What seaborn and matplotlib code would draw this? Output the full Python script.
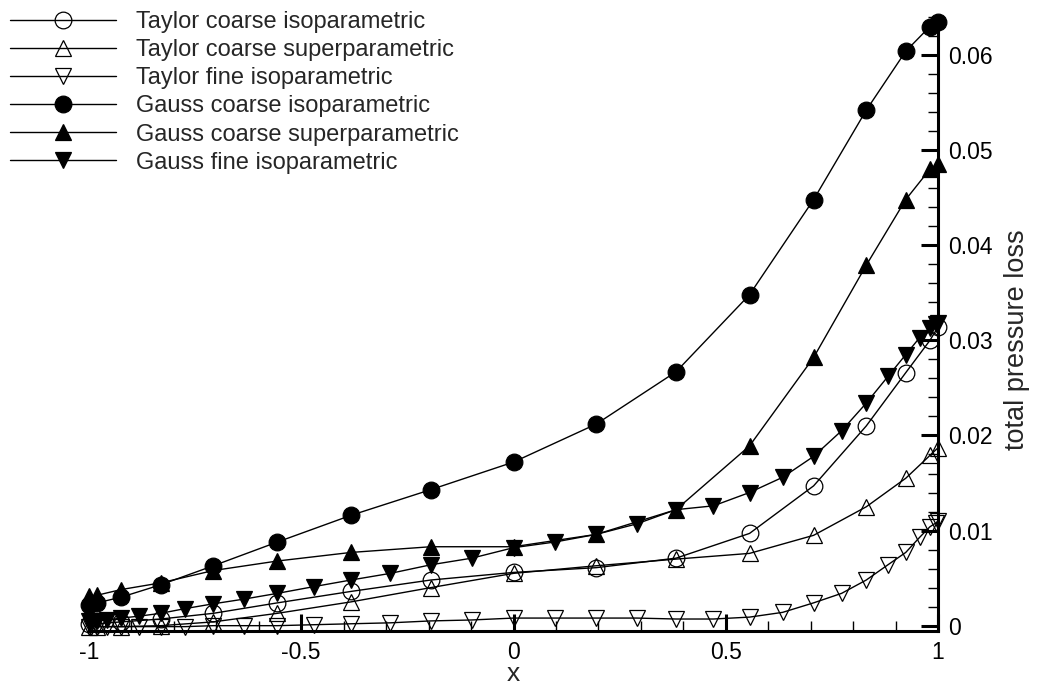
import numpy as np
import pandas as pd
import matplotlib
matplotlib.use("Agg")
import matplotlib.pyplot as plt
from matplotlib.ticker import MultipleLocator, FuncFormatter
import seaborn as sns

# Collocation coordinates of the two grids
x_coarse = [-1.0, -0.981, -0.924, -0.831, -0.707, -0.556, -0.383, -0.195, 0.0,
            0.195, 0.383, 0.556, 0.707, 0.831, 0.924, 0.981, 1.0]
x_fine = [-1.0, -0.995, -0.981, -0.957, -0.924, -0.882, -0.831, -0.773, -0.707,
          -0.634, -0.556, -0.471, -0.383, -0.290, -0.195, -0.098, 0.0,
          0.098, 0.195, 0.290, 0.383, 0.471, 0.556, 0.634, 0.707,
          0.773, 0.831, 0.882, 0.924, 0.957, 0.981, 0.995, 1.0]

# Total pressure loss along x
taylor_coarse_iso = [0.0002, 0.0002, 0.0004, 0.0007, 0.0013, 0.0024, 0.0036, 0.0048, 0.0056,
                     0.0061, 0.0071, 0.0097, 0.0147, 0.0210, 0.0266, 0.0300, 0.0314]
taylor_coarse_super = [-0.0001, -0.0001, -0.0001, 0.0000, 0.0004, 0.0013, 0.0025, 0.0040, 0.0055,
                       0.0063, 0.0070, 0.0076, 0.0095, 0.0125, 0.0155, 0.0179, 0.0187]
taylor_fine_iso = [-0.0001, -0.0001, -0.0001, -0.0001, -0.0001, -0.0001, -0.0001, -0.0001, 0.0000,
                   0.0000, 0.0000, 0.0001, 0.0002, 0.0003, 0.0005, 0.0006, 0.0008,
                   0.0008, 0.0008, 0.0008, 0.0007, 0.0007, 0.0009, 0.0014, 0.0024,
                   0.0034, 0.0048, 0.0064, 0.0077, 0.0093, 0.0104, 0.0108, 0.0110]
gauss_coarse_iso = [0.0022, 0.0024, 0.0030, 0.0043, 0.0063, 0.0088, 0.0116, 0.0143, 0.0172,
                    0.0212, 0.0267, 0.0348, 0.0448, 0.0542, 0.0604, 0.0630, 0.0635]
gauss_coarse_super = [0.0031, 0.0032, 0.0038, 0.0045, 0.0058, 0.0068, 0.0077, 0.0083, 0.0083,
                      0.0096, 0.0122, 0.0189, 0.0282, 0.0379, 0.0448, 0.0480, 0.0485]
gauss_fine_iso = [0.0005, 0.0005, 0.0005, 0.0006, 0.0008, 0.0010, 0.0013, 0.0018, 0.0023,
                  0.0028, 0.0034, 0.0041, 0.0048, 0.0055, 0.0064, 0.0071, 0.0082,
                  0.0088, 0.0096, 0.0107, 0.0122, 0.0126, 0.0140, 0.0156, 0.0178,
                  0.0205, 0.0234, 0.0262, 0.0285, 0.0303, 0.0313, 0.0317, 0.0318]

series_names = ["Taylor coarse isoparametric", "Taylor coarse superparametric",
                "Taylor fine isoparametric", "Gauss coarse isoparametric",
                "Gauss coarse superparametric", "Gauss fine isoparametric"]
series_x = [x_coarse, x_coarse, x_fine, x_coarse, x_coarse, x_fine]
series_y = [taylor_coarse_iso, taylor_coarse_super, taylor_fine_iso,
            gauss_coarse_iso, gauss_coarse_super, gauss_fine_iso]
series_marker = ["o", "^", "v", "o", "^", "v"]
series_filled = [False, False, False, True, True, True]

sns.set_style("ticks")
plt.rcParams["font.family"] = ["Liberation Sans", "DejaVu Sans"]
plt.rcParams["axes.unicode_minus"] = False

fig = plt.figure(figsize=(10.37, 6.87), dpi=100)
ax = fig.add_axes([89 / 1037, 1 - 631 / 687, (938 - 89) / 1037, (631 - 17) / 687])

for name, xs, ys, mk, filled in zip(series_names, series_x, series_y,
                                     series_marker, series_filled):
    df = pd.DataFrame({"x": xs, "loss": ys})
    sns.lineplot(data=df, x="x", y="loss", ax=ax, estimator=None, errorbar=None,
                 color="black", lw=1.0, marker=mk, ms=12,
                 mfc="black" if filled else "none", mec="black", mew=0.9,
                 label=name, clip_on=False, zorder=3)

if ax.get_legend() is not None:
    ax.get_legend().remove()

ax.set_xlim(-1, 1)
ax.set_ylim(-0.00056, 0.064)

for side in ("left", "top"):
    ax.spines[side].set_visible(False)
for side in ("right", "bottom"):
    ax.spines[side].set_linewidth(2.2)
    ax.spines[side].set_color("black")

ax.yaxis.tick_right()
ax.yaxis.set_label_position("right")
ax.xaxis.set_major_locator(MultipleLocator(0.5))
ax.xaxis.set_minor_locator(MultipleLocator(0.1))
ax.yaxis.set_major_locator(MultipleLocator(0.01))
ax.yaxis.set_minor_locator(MultipleLocator(0.002))
fmt = FuncFormatter(lambda v, p: "%g" % round(v, 6))
ax.xaxis.set_major_formatter(fmt)
ax.yaxis.set_major_formatter(fmt)

ax.tick_params(which="major", direction="in", length=12, width=2.2,
               labelsize=16.5, pad=7, color="black", labelcolor="black")
ax.tick_params(which="minor", direction="in", length=7, width=1.0, color="black")
ax.tick_params(axis="y", which="both", left=False, right=True,
               labelleft=False, labelright=True)
ax.tick_params(axis="x", which="both", top=False, bottom=True)

ax.set_xlabel("x", fontsize=19)
ax.xaxis.set_label_coords(0.5, (631 - 681) / 614, transform=ax.transAxes)
ax.xaxis.label.set_va("baseline")
ax.set_ylabel("total pressure loss", fontsize=19.5, rotation=90)
ax.yaxis.set_label_coords((1017 - 89) / (938 - 89), (631 - 340) / 614)
ax.yaxis.label.set_va("center")

handles, labels = ax.get_legend_handles_labels()
fig.legend(handles, labels, loc="upper left",
           bbox_to_anchor=(10 / 1037, 1 - 11 / 687), frameon=False,
           fontsize=17, borderpad=0, borderaxespad=0, numpoints=1,
           handlelength=4.5, handletextpad=0.85, labelspacing=0.26)

fig.savefig("out.png", dpi=100)
